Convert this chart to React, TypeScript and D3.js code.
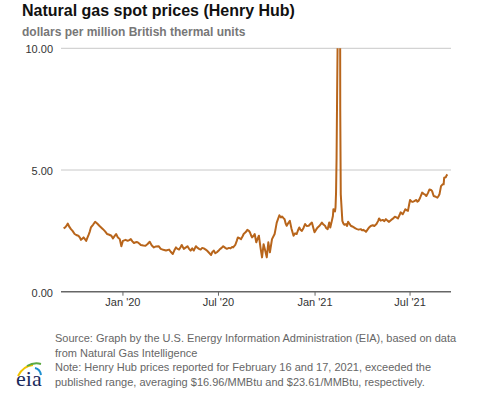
import React from "react";
import * as d3 from "d3";

const width = 477;
const height = 393;
const margin = { left: 61, right: 26, top: 48, bottom: 101 }; // plot box
const lineColor = "#b8651b";
const font = "Arial, 'Liberation Sans', sans-serif";

// Henry Hub spot prices, $/MMBtu (roughly every few days)
const dates = [
  "2019-09-10", "2019-09-13", "2019-09-16", "2019-09-18", "2019-09-21", "2019-09-24", "2019-09-27",
  "2019-10-01", "2019-10-04", "2019-10-08", "2019-10-11", "2019-10-13", "2019-10-16", "2019-10-18",
  "2019-10-21", "2019-10-23", "2019-10-25", "2019-10-27", "2019-10-30", "2019-11-01", "2019-11-05",
  "2019-11-09", "2019-11-13", "2019-11-17", "2019-11-20", "2019-11-24", "2019-11-28", "2019-12-02",
  "2019-12-06", "2019-12-10", "2019-12-13", "2019-12-16", "2019-12-19", "2019-12-22", "2019-12-26",
  "2019-12-29", "2020-01-01", "2020-01-06", "2020-01-10", "2020-01-13", "2020-01-16", "2020-01-19",
  "2020-01-22", "2020-01-26", "2020-01-29", "2020-02-01", "2020-02-04", "2020-02-09", "2020-02-13",
  "2020-02-17", "2020-02-21", "2020-02-25", "2020-02-29", "2020-03-04", "2020-03-09", "2020-03-13",
  "2020-03-18", "2020-03-23", "2020-03-29", "2020-04-01", "2020-04-05", "2020-04-08", "2020-04-11",
  "2020-04-14", "2020-04-17", "2020-04-20", "2020-04-22", "2020-04-26", "2020-04-30", "2020-05-03",
  "2020-05-06", "2020-05-09", "2020-05-12", "2020-05-15", "2020-05-19", "2020-05-21", "2020-05-25",
  "2020-05-28", "2020-05-31", "2020-06-03", "2020-06-06", "2020-06-09", "2020-06-13", "2020-06-17",
  "2020-06-19", "2020-06-22", "2020-06-25", "2020-06-28", "2020-07-01", "2020-07-03", "2020-07-07",
  "2020-07-10", "2020-07-14", "2020-07-17", "2020-07-21", "2020-07-24", "2020-07-27", "2020-07-29",
  "2020-08-02", "2020-08-05", "2020-08-07", "2020-08-10", "2020-08-13", "2020-08-16", "2020-08-18",
  "2020-08-22", "2020-08-25", "2020-08-28", "2020-08-30", "2020-09-01", "2020-09-03", "2020-09-06",
  "2020-09-08", "2020-09-11", "2020-09-14", "2020-09-16", "2020-09-19", "2020-09-22", "2020-09-25",
  "2020-09-28", "2020-10-01", "2020-10-04", "2020-10-07", "2020-10-11", "2020-10-16", "2020-10-18",
  "2020-10-20", "2020-10-25", "2020-10-28", "2020-10-30", "2020-11-02", "2020-11-04", "2020-11-06",
  "2020-11-08", "2020-11-11", "2020-11-14", "2020-11-17", "2020-11-21", "2020-11-24", "2020-11-27",
  "2020-11-30", "2020-12-02", "2020-12-04", "2020-12-07", "2020-12-10", "2020-12-13", "2020-12-16",
  "2020-12-20", "2020-12-23", "2020-12-26", "2020-12-29", "2020-12-31", "2021-01-03", "2021-01-06",
  "2021-01-10", "2021-01-14", "2021-01-17", "2021-01-20", "2021-01-22", "2021-01-25", "2021-01-28",
  "2021-01-30", "2021-02-02", "2021-02-04", "2021-02-05", "2021-02-08", "2021-02-09", "2021-02-10",
  "2021-02-11", "2021-02-12", "2021-02-16", "2021-02-17", "2021-02-18", "2021-02-19", "2021-02-22",
  "2021-02-24", "2021-02-26", "2021-03-01", "2021-03-03", "2021-03-05", "2021-03-08", "2021-03-10",
  "2021-03-13", "2021-03-16", "2021-03-19", "2021-03-22", "2021-03-25", "2021-03-29", "2021-04-01",
  "2021-04-03", "2021-04-06", "2021-04-08", "2021-04-11", "2021-04-14", "2021-04-17", "2021-04-21",
  "2021-04-24", "2021-04-28", "2021-05-01", "2021-05-03", "2021-05-06", "2021-05-10", "2021-05-13",
  "2021-05-16", "2021-05-19", "2021-05-22", "2021-05-26", "2021-05-30", "2021-06-02", "2021-06-05",
  "2021-06-08", "2021-06-11", "2021-06-13", "2021-06-17", "2021-06-20", "2021-06-22", "2021-06-25",
  "2021-06-27", "2021-06-29", "2021-07-01", "2021-07-04", "2021-07-06", "2021-07-09", "2021-07-13",
  "2021-07-15", "2021-07-17", "2021-07-20", "2021-07-24", "2021-07-27", "2021-07-29", "2021-08-01",
  "2021-08-04", "2021-08-07", "2021-08-10", "2021-08-12", "2021-08-15", "2021-08-19", "2021-08-22",
  "2021-08-24", "2021-08-26", "2021-08-29", "2021-09-01", "2021-09-03", "2021-09-04", "2021-09-07",
  "2021-09-08", "2021-09-10",
];

const prices = [
  2.6, 2.64, 2.72, 2.8, 2.66, 2.57, 2.5,
  2.37, 2.33, 2.3, 2.22, 2.13, 2.19, 2.23,
  2.15, 2.09, 2.2, 2.3, 2.48, 2.64, 2.75,
  2.87, 2.8, 2.71, 2.65, 2.57, 2.48, 2.37,
  2.34, 2.3, 2.19, 2.28, 2.37, 2.24, 2.16,
  1.87, 2.09, 2.13, 2.09, 2.12, 2.16, 2.07,
  2.0, 2.04, 2.03, 1.98, 1.92, 1.9, 1.89,
  1.96, 2.05, 1.9, 1.82, 1.86, 1.87, 1.76,
  1.72, 1.69, 1.73, 1.64, 1.55, 1.7, 1.82,
  1.76, 1.73, 1.84, 1.92, 1.76, 1.82, 1.87,
  1.76, 1.69, 1.78, 1.69, 1.87, 1.82, 1.76,
  1.73, 1.8, 1.78, 1.74, 1.69, 1.6, 1.51,
  1.62, 1.69, 1.58, 1.62, 1.68, 1.73, 1.8,
  1.87, 1.8, 1.76, 1.8, 1.78, 1.84, 1.82,
  1.92, 2.1, 2.23, 2.2, 2.16, 2.28, 2.37,
  2.45, 2.54, 2.5, 2.44, 2.32, 2.23, 2.3,
  2.37, 2.03, 2.2, 2.3, 1.82, 1.41, 1.95,
  1.69, 1.41, 2.03, 1.62, 2.16, 2.37, 2.6,
  2.84, 3.14, 3.05, 3.09, 3.02, 2.98, 2.8,
  2.71, 2.82, 2.91, 2.6, 2.3, 2.4, 2.37,
  2.55, 2.64, 2.55, 2.5, 2.62, 2.78, 2.7,
  2.71, 2.78, 2.84, 2.6, 2.44, 2.55, 2.64,
  2.72, 2.84, 2.76, 2.71, 2.62, 2.57, 2.84,
  2.64, 2.91, 3.11, 3.39, 3.3, 3.46, 4.07,
  5.5, 8.0, 16.96, 23.61, 7.5, 4.0, 2.91,
  2.8, 2.75, 2.78, 2.7, 2.87, 2.78, 2.71,
  2.68, 2.64, 2.6, 2.57, 2.55, 2.57, 2.52,
  2.54, 2.5, 2.46, 2.55, 2.64, 2.7, 2.73,
  2.7, 2.78, 2.9, 3.01, 2.92, 2.95, 2.9,
  2.98, 2.92, 2.87, 2.95, 3.01, 3.08, 3.05,
  3.01, 3.15, 3.26, 3.18, 3.3, 3.39, 3.34,
  3.32, 3.55, 3.77, 3.7, 3.69, 3.72, 3.77,
  3.7, 3.73, 3.85, 4.07, 4.02, 4.0, 3.93,
  4.05, 4.2, 4.18, 4.13, 3.93, 3.9, 3.86,
  3.92, 4.0, 4.34, 4.41, 4.41, 4.68, 4.7,
  4.75, 4.82,
];

const xDomain = ["2019-09-05", "2021-09-17"];
const yTicks = [0, 5, 10];
const xTicks = ["2020-01-01", "2020-07-01", "2021-01-01", "2021-07-01"];
const xTickLabels = ["Jan '20", "Jul '20", "Jan '21", "Jul '21"];

const title = "Natural gas spot prices (Henry Hub)";
const subtitle = "dollars per million British thermal units";
const notes = [
  "Source: Graph by the U.S. Energy Information Administration (EIA), based on data",
  "from Natural Gas Intelligence",
  "Note: Henry Hub prices reported for February 16 and 17, 2021, exceeded the",
  "published range, averaging $16.96/MMBtu and $23.61/MMBtu, respectively.",
];

const parse = d3.utcParse("%Y-%m-%d");

export default function App() {
  const x = d3
    .scaleUtc()
    .domain(xDomain.map((d) => parse(d) as Date))
    .range([margin.left, width - margin.right]);
  const y = d3
    .scaleLinear()
    .domain([0, 10])
    .range([height - margin.bottom - 0.3, margin.top + 0.3]);

  const data = dates.map((d, i) => ({ date: parse(d) as Date, value: prices[i] }));
  const line = d3
    .line<{ date: Date; value: number }>()
    .x((d) => x(d.date))
    .y((d) => y(d.value));

  const y0 = y(0);

  return (
    <svg
      width={width}
      height={height}
      style={{ position: "absolute", left: 0, top: 0, background: "#fff" }}
      fontFamily={font}
    >
      <defs>
        <clipPath id="plot">
          <rect x={margin.left} y={y(10)} width={width - margin.left - margin.right} height={y0 - y(10)} />
        </clipPath>
      </defs>

      <text x={22} y={16} fontSize={16} fontWeight="bold" fill="#111">
        {title}
      </text>
      <text x={22} y={36} fontSize={12} fontWeight="bold" fill="#777">
        {subtitle}
      </text>

      {/* gridlines + y labels */}
      {yTicks.map((t) => (
        <g key={t}>
          {t > 0 && (
            <line x1={margin.left} x2={width - margin.right} y1={y(t)} y2={y(t)} stroke="#c8c8c8" strokeWidth={1} />
          )}
          <text x={53} y={y(t) + 5} fontSize={11} textAnchor="end" fill="#333">
            {t.toFixed(2)}
          </text>
        </g>
      ))}

      {/* x axis */}
      <line x1={margin.left} x2={width - margin.right} y1={y0} y2={y0} stroke="#666" strokeWidth={1.5} />
      {xTicks.map((t, i) => {
        const xx = x(parse(t) as Date);
        return (
          <g key={t}>
            <line x1={xx} x2={xx} y1={y0} y2={y0 + 4} stroke="#666" strokeWidth={1} />
            <text x={xx} y={y0 + 14} fontSize={11} textAnchor="middle" fill="#333">
              {xTickLabels[i]}
            </text>
          </g>
        );
      })}

      <path
        d={line(data) || ""}
        fill="none"
        stroke={lineColor}
        strokeWidth={2}
        strokeLinejoin="round"
        clipPath="url(#plot)"
      />

      {/* footnotes */}
      {notes.map((n, i) => (
        <text key={i} x={55} y={342 + i * 14.7} fontSize={11} fill="#666">
          {n}
        </text>
      ))}

      {/* eia logo */}
      <g>
        <path d="M18,376 Q23,366 33,365" fill="none" stroke="#f2c300" strokeWidth={2} />
        <path d="M27,366 Q34,362 41,364" fill="none" stroke="#5aa942" strokeWidth={2} />
        <path d="M35,368 Q40,369 41,375" fill="none" stroke="#1e8fd0" strokeWidth={2} />
        <text x={16} y={386} fontSize={22} fontFamily="'Liberation Serif', 'Times New Roman', serif" fill="#1b2a5c">
          eia
        </text>
      </g>
    </svg>
  );
}
